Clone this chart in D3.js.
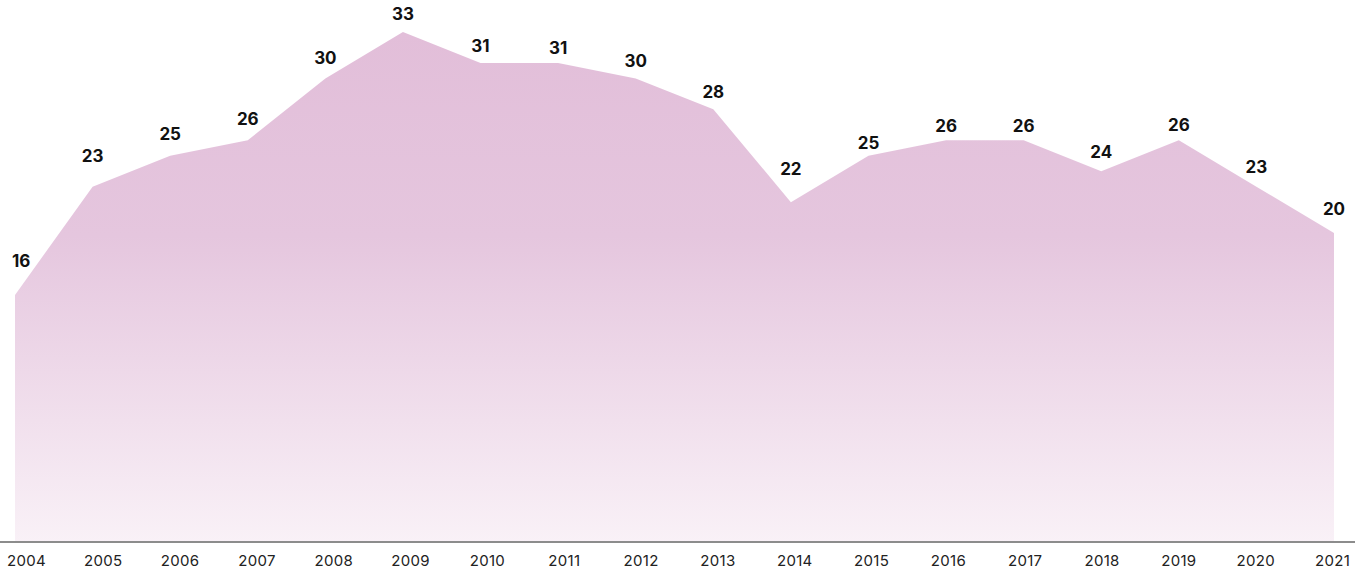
<!DOCTYPE html>
<html>
<head>
<meta charset="utf-8">
<script src="https://cdn.jsdelivr.net/npm/d3@7/dist/d3.min.js"></script>
<style>
  html, body { margin: 0; padding: 0; background: #fff; }
  svg { display: block; }
  .val { font-family: Inter, "Noto Sans", sans-serif; font-weight: 700; font-size: 17px; fill: #111; }
  .year { font-family: Inter, "Noto Sans", sans-serif; font-size: 15px; fill: #222; letter-spacing: 0.3px; }
</style>
</head>
<body>
<svg id="chart" width="1360" height="573"></svg>
<script>
// ── DATA ───────────────────────────────────────────────────────────────────
const years  = ['2004','2005','2006','2007','2008','2009','2010','2011','2012',
                '2013','2014','2015','2016','2017','2018','2019','2020','2021'];
const values = [16, 23, 25, 26, 30, 33, 31, 31, 30, 28, 22, 25, 26, 26, 24, 26, 23, 20];

// gap (px) between each value label's baseline and its point
const labelGap = [28, 25, 16, 15, 14, 12, 11, 9, 11, 11, 27, 7, 8, 8, 13, 9, 14, 18];

// ── LAYOUT ─────────────────────────────────────────────────────────────────
const W = 1360, H = 573;
const baseY = 542.5;

const svg = d3.select('#chart');

const x = d3.scalePoint().domain(years).range([15, 1334]);
const xLabel = d3.scalePoint().domain(years).range([26, 1332]);
const y = d3.scaleLinear().domain([0, 35]).range([baseY, baseY - 35 * 15.47]);

const rows = years.map((yr, i) => ({ year: yr, value: values[i], gap: labelGap[i] }));

// ── GRADIENT ───────────────────────────────────────────────────────────────
const grad = svg.append('defs').append('linearGradient')
  .attr('id', 'fillGrad')
  .attr('gradientUnits', 'userSpaceOnUse')
  .attr('x1', 0).attr('x2', 0)
  .attr('y1', y(33)).attr('y2', baseY);
grad.append('stop').attr('offset', '0%').attr('stop-color', '#e2bed9');
grad.append('stop').attr('offset', '40%').attr('stop-color', '#e5c6de');
grad.append('stop').attr('offset', '100%').attr('stop-color', '#f9f1f7');

// ── AREA ───────────────────────────────────────────────────────────────────
const area = d3.area()
  .x(d => x(d.year))
  .y0(y(0))
  .y1(d => y(d.value));

svg.append('path')
  .datum(rows)
  .attr('d', area)
  .attr('fill', 'url(#fillGrad)');

// ── BASELINE ───────────────────────────────────────────────────────────────
svg.append('line')
  .attr('x1', 0).attr('x2', 1355)
  .attr('y1', baseY - 0.5).attr('y2', baseY - 0.5)
  .attr('stroke', '#8c8c8c')
  .attr('stroke-width', 2);

// ── YEAR AXIS ──────────────────────────────────────────────────────────────
const axis = d3.axisBottom(xLabel).tickSize(0).tickPadding(0);
const axisG = svg.append('g')
  .attr('transform', `translate(0, ${baseY})`)
  .call(axis);
axisG.select('.domain').remove();
axisG.selectAll('text')
  .attr('class', 'year')
  .attr('dy', null)
  .attr('y', 23.5)
  .attr('font-family', null)
  .attr('font-size', null)
  .attr('fill', null);

// ── VALUE LABELS ───────────────────────────────────────────────────────────
svg.append('g')
  .selectAll('text')
  .data(rows)
  .join('text')
    .attr('class', 'val')
    .attr('text-anchor', 'middle')
    .attr('x', d => x(d.year))
    .attr('y', d => y(d.value) - d.gap)
    .text(d => d.value)
    .each(function() {
      // keep labels inside the frame
      const half = this.getComputedTextLength() / 2;
      const cx = +this.getAttribute('x');
      if (cx - half < 12) this.setAttribute('x', 12 + half);
      if (cx + half > W - 12) this.setAttribute('x', W - 12 - half);
    });
</script>
</body>
</html>
